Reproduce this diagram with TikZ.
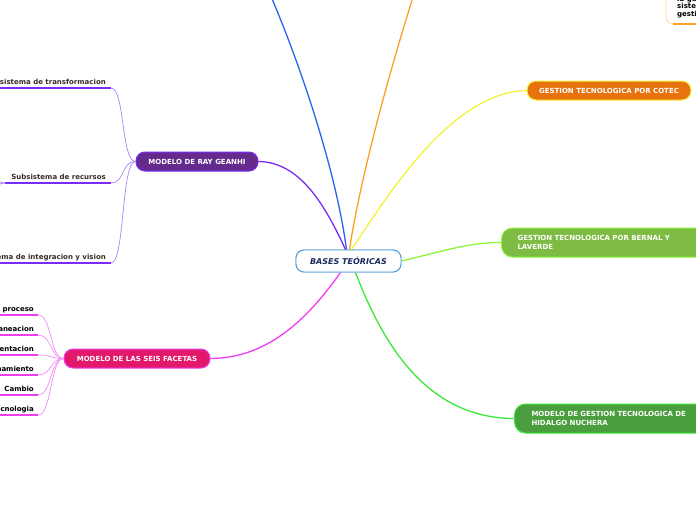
\documentclass[tikz,border=0pt]{standalone}
\usepackage{fontspec}
\setmainfont{DejaVu Sans}
\definecolor{cblue}{HTML}{2B62F0}
\definecolor{corange}{HTML}{FFA024}
\definecolor{cyellow}{HTML}{F2F23A}
\definecolor{clime}{HTML}{8CF53A}
\definecolor{cgreen}{HTML}{3AE83A}
\definecolor{cpurple}{HTML}{7A2BF5}
\definecolor{cmagenta}{HTML}{F03CF0}
\definecolor{cpurplelt}{HTML}{A883F5}
\definecolor{cmagentalt}{HTML}{F58AF5}
\definecolor{rayfill}{HTML}{652A8E}
\definecolor{seisfill}{HTML}{E2196A}
\definecolor{cotecfill}{HTML}{E8730E}
\definecolor{bernalfill}{HTML}{7DBB42}
\definecolor{hidalgofill}{HTML}{4A9E3D}
\definecolor{centerborder}{HTML}{4F9AD6}
\definecolor{centertext}{HTML}{1A2A5A}
\definecolor{kidtext}{HTML}{3A2A2A}
\begin{document}
\begin{tikzpicture}[x=1pt,y=-1pt,
  topic/.style={font=\bfseries\fontsize{7}{8.6}\selectfont, text=white, rounded corners=9pt, line width=1pt, inner sep=0pt, minimum height=19pt},
  kid/.style={font=\bfseries\fontsize{7}{8}\selectfont, anchor=base east, inner sep=0pt},
  centre/.style={draw=centerborder, fill=white, rounded corners=8pt, line width=0.9pt, minimum width=105pt, minimum height=22pt, inner sep=0pt,
  font=\bfseries\itshape\fontsize{8}{9}\selectfont, text=centertext},
  branch/.style={line width=1.3pt},
  twig/.style={line width=0.7pt},
  uline/.style={line width=1.6pt}]
\useasboundingbox (0,0) rectangle (696,520);
\clip (0,0) rectangle (696,520);

% main topics
\node[centre] (c) at (348.5,261) {BASES TEÓRICAS};
\node[topic, draw=cpurple, fill=rayfill, minimum width=122pt] (ray) at (197,161.5) {MODELO DE RAY GEANHI};
\node[topic, draw=cmagenta, fill=seisfill, minimum width=146pt] (seis) at (137,358.5) {MODELO DE LAS SEIS FACETAS};
\node[topic, draw=cyellow, fill=cotecfill, minimum width=164pt] (cotec) at (609,90.5) {GESTION TECNOLOGICA POR COTEC};
\node[topic, draw=clime, fill=bernalfill, minimum height=29pt, text width=210pt, inner xsep=16pt, align=left, anchor=west, rounded corners=11pt] (bernal) at (501,242.5) {GESTION TECNOLOGICA POR BERNAL Y\\LAVERDE};
\node[topic, draw=cgreen, fill=hidalgofill, minimum height=29pt, text width=210pt, inner xsep=17pt, align=left, anchor=west, rounded corners=11pt] (hidalgo) at (514,418.5) {MODELO DE GESTION TECNOLOGICA DE\\HIDALGO NUCHERA};

% off-canvas ends
\coordinate (blueend) at (270,-6);
\coordinate (orangeend) at (414,-6);

% main branches
\draw[branch, cblue] ([xshift=-2pt]c.north) .. controls (336,170) and (300,64) .. (blueend);
\draw[branch, corange] ([xshift=1pt]c.north) .. controls (360,180) and (388,76) .. (orangeend);
\draw[branch, cyellow] ([xshift=3pt]c.north) .. controls (385,200) and (450,92) .. (cotec.west);
\draw[branch, clime] (c.east) .. controls (440,252) and (470,242) .. (bernal.west);
\draw[branch, cgreen] ([xshift=7pt]c.south) .. controls (385,350) and (430,418) .. (hidalgo.west);
\draw[branch, cpurple] ([xshift=-3pt]c.north) .. controls (325,205) and (300,162) .. (ray.east);
\draw[branch, cmagenta] ([xshift=-8pt]c.south) .. controls (300,330) and (260,358) .. (seis.east);
% redraw center on top of branch ends
\node[centre] (c2) at (348.5,261) {BASES TEÓRICAS};

% Ray Geanhi children
\coordinate (r1) at (111,88);
\coordinate (r2) at (111,183);
\coordinate (r3) at (111,263);
\draw[twig, cpurplelt] (ray.west) .. controls (121,161.5) and (125,88) .. (r1);
\draw[twig, cpurplelt] (ray.west) .. controls (121,161.5) and (125,183) .. (r2);
\draw[twig, cpurplelt] (ray.west) .. controls (121,161.5) and (125,263) .. (r3);
\draw[uline, cpurple] (r1) -- (-5,88);
\draw[uline, cpurple] (r2) -- (5,183) coordinate (r2l);
\draw[uline, cpurple] (r3) -- (-5,263);
\draw[twig, cpurplelt] (r2l) .. controls (1,183) .. (-4,178);
\draw[twig, cpurplelt] (r2l) .. controls (1,183) .. (-4,188);
\node[kid, text=kidtext] (t1) at (106,84) {Subsistema de transformacion};
\node[kid, text=kidtext] (t2) at (106,179) {Subsistema de recursos};
\node[kid, text=kidtext] (t3) at (106,259) {Subsistema de integracion y vision};

% Seis facetas children
\foreach \n/\y/\t in {s1/315/Faceta del proceso, s2/335/Planeacion, s3/355/Implementacion, s4/375/Posicionamiento, s5/395/Cambio, s6/415/Tecnologia}{
  \coordinate (\n) at (38,\y);
  \draw[twig, cmagentalt] (seis.west) .. controls (50,358.5) and (52,\y) .. (\n);
  \draw[uline, cmagenta] (\n) -- (-5,\y);
  \node[kid, text=black] at (34,\y-4) {\t};
}

% top-right partial node
\coordinate (tr1) at (666,-6);
\coordinate (tr2) at (673,24);
\draw[twig, corange!45] (tr1) -- (666,17) to[out=-90,in=180] (tr2);
\draw[uline, corange] (tr2) -- (700,24);
\node[anchor=north west, align=left, inner sep=0pt, font=\bfseries\fontsize{7}{7.8}\selectfont, text=black] (trn) at (677,-4.5) {la gestion\\sistema de\\gestion};
\end{tikzpicture}
\end{document}
